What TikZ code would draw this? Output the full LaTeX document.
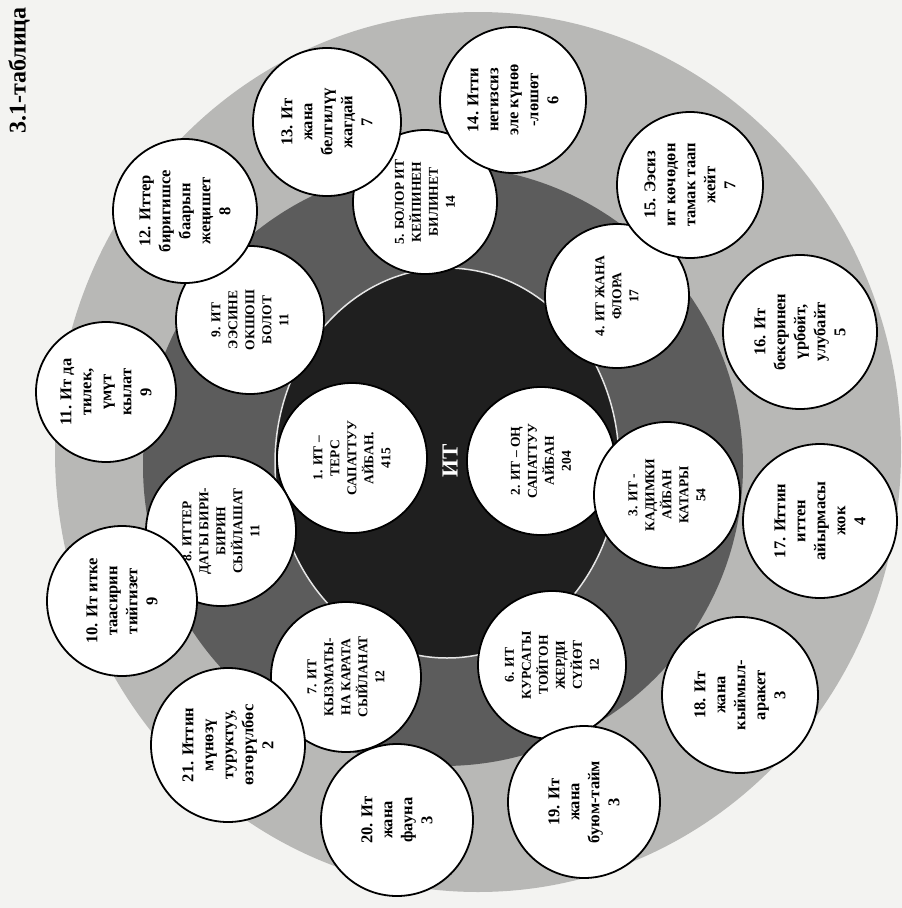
\documentclass[tikz,border=0pt]{standalone}
\usepackage{fontspec}
\setmainfont{Liberation Serif}
\definecolor{paper}{HTML}{F3F3F1}
\definecolor{outerg}{HTML}{B8B8B6}
\definecolor{midg}{HTML}{5C5C5C}
\definecolor{innerg}{HTML}{1F1F1F}
\begin{document}
\begin{tikzpicture}[x=1pt,y=-1pt,
  bub/.style={circle,draw=black,line width=1.8pt,fill=white,inner sep=0pt,align=center,rotate=90,text=black},
  inbub/.style={bub,font=\fontsize{13.5}{17}\selectfont\bfseries},
  outbub/.style={bub,font=\fontsize{16.5}{20}\selectfont\bfseries}]
\fill[paper] (0,0) rectangle (902,908);
\useasboundingbox (0,0) rectangle (902,908);
\begin{scope}
\clip (0,0) rectangle (902,908);
\fill[outerg] (478,452) ellipse [x radius=423, y radius=440];
\fill[midg] (443,466) circle [radius=300];
\filldraw[fill=innerg, draw=white!80!gray, line width=1.5pt] (447,463) ellipse [x radius=172, y radius=195];
\node[text=white, rotate=90, font=\fontsize{23}{26}\selectfont\bfseries] (it) at (450,461) {ИТ};
% inner ring
\node[inbub, minimum size=150pt] (c1) at (352,458) {1. ИТ –\\ТЕРС\\САПАТТУУ\\АЙБАН.\\415};
\node[inbub, minimum size=148pt] (c2) at (541,461) {2. ИТ – ОҢ\\САПАТТУУ\\АЙБАН\\204};
\node[inbub, minimum size=146pt] (c3) at (667,495) {3. ИТ -\\КАДИМКИ\\АЙБАН\\КАТАРЫ\\54};
\node[inbub, minimum size=144pt] (c4) at (617,296) {4. ИТ ЖАНА\\ФЛОРА\\17};
\node[inbub, minimum size=144pt] (c5) at (425,202) {5. БОЛОР ИТ\\КЕЙПИНЕН\\БИЛИНЕТ\\14};
\node[inbub, minimum size=148pt] (c6) at (552,665) {6. ИТ\\КУРСАГЫ\\ТОЙГОН\\ЖЕРДИ\\СҮЙӨТ\\12};
\node[inbub, minimum size=150pt] (c7) at (346,677) {7. ИТ\\КЫЗМАТЫ-\\НА КАРАТА\\СЫЙЛАНАТ\\12};
\node[inbub, minimum size=150pt] (c8) at (221,531) {8. ИТТЕР\\ДАГЫ БИРИ-\\БИРИН\\СЫЙЛАШАТ\\11};
\node[inbub, minimum size=148pt] (c9) at (250,320) {9. ИТ\\ЭЭСИНЕ\\ОКШОШ\\БОЛОТ\\11};
% outer ring
\node[outbub, minimum size=150pt] (c10) at (122,601) {10. Ит итке\\таасирин\\тийгизет\\9};
\node[outbub, minimum size=140pt] (c11) at (106,392) {11. Ит да\\тилек,\\үмүт\\кылат\\9};
\node[outbub, minimum size=144pt] (c12) at (185,211) {12. Иттер\\биригишсе\\баарын\\жеңишет\\8};
\node[outbub, minimum size=148pt] (c13) at (327,122) {13. Ит\\жана\\белгилүү\\жагдай\\7};
\node[outbub, minimum size=146pt] (c14) at (513,100) {14. Итти\\негизсиз\\эле күнөө\\-лөшөт\\6};
\node[outbub, minimum size=146pt] (c15) at (690,185) {15. Ээсиз\\ит көчөдөн\\тамак таап\\жейт\\7};
\node[outbub, minimum size=154pt] (c16) at (800,332) {16. Ит\\бекеринен\\үрбөйт,\\улубайт\\5};
\node[outbub, minimum size=154pt] (c17) at (820,521) {17. Иттин\\иттен\\айырмасы\\жок\\4};
\node[outbub, minimum size=156pt] (c18) at (740,695) {18. Ит\\жана\\кыймыл-\\аракет\\3};
\node[outbub, minimum size=152pt] (c19) at (584,802) {19. Ит\\жана\\буюм-тайм\\3};
\node[outbub, minimum size=152pt] (c20) at (397,820) {20. Ит\\жана\\фауна\\3};
\node[outbub, minimum size=154pt] (c21) at (228,745) {21. Иттин\\мүнөзү\\туруктуу,\\өзгөрүлбөс\\2};
% title
\node[rotate=90, font=\fontsize{24}{26}\selectfont\bfseries, anchor=west, inner sep=0pt] (title) at (19,134) {3.1-таблица};
\end{scope}
\end{tikzpicture}
\end{document}
